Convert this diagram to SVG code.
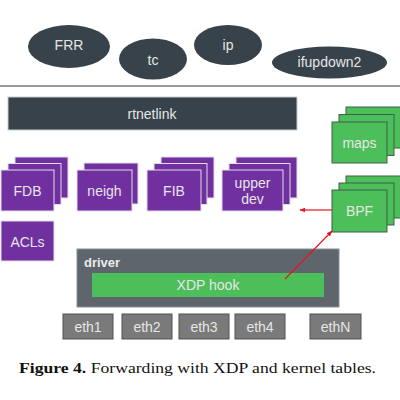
<svg xmlns="http://www.w3.org/2000/svg" width="400" height="400" viewBox="0 0 400 400">
<defs>
<marker id="ah" viewBox="0 0 10 10" refX="9" refY="5" markerWidth="6" markerHeight="6" orient="auto" markerUnits="userSpaceOnUse">
<path d="M0,1 L10,5 L0,9 z" fill="#e8141c"/>
</marker>
</defs>
<style>
.t{font-family:"Liberation Sans",Arial,sans-serif;font-size:14px;fill:#e6e6e6;text-anchor:middle;dominant-baseline:central}
.ell{fill:#37424a}
.pur{fill:#7030a0;stroke:#e4dcea;stroke-width:1}
.grn{fill:#4cbf5a;stroke:#3f5f49;stroke-width:1}
.eth{fill:#7a7a7a;stroke:#505050;stroke-width:1}
.conn{stroke:#e8141c;stroke-width:1.2;fill:none}
.cap{font-family:"Liberation Serif","Times New Roman",serif;font-size:15px;fill:#111}
</style>
<rect width="400" height="400" fill="#ffffff"/>

<g id="FRR"><ellipse class="ell" cx="69" cy="46.5" rx="41" ry="21.5"/><text class="t" x="69" y="45">FRR</text></g>
<g id="tc"><ellipse class="ell" cx="153" cy="59" rx="34" ry="20.5"/><text class="t" x="153" y="60">tc</text></g>
<g id="ip"><ellipse class="ell" cx="228" cy="45" rx="34" ry="20"/><text class="t" x="228" y="45">ip</text></g>
<g id="ifupdown2"><ellipse class="ell" cx="329.5" cy="62.5" rx="57.5" ry="16"/><text class="t" x="329.5" y="62">ifupdown2</text></g>

<line x1="0" y1="86" x2="400" y2="86" stroke="#9a9a9a" stroke-width="2"/>

<g id="rtnetlink"><rect x="8" y="97" width="289" height="33" fill="#37424a" stroke="#c8ccd0" stroke-width="1"/><text class="t" x="152" y="114">rtnetlink</text></g>

<g id="FDB">
<rect class="pur" x="15" y="157" width="53" height="41"/>
<rect class="pur" x="8" y="163.5" width="53" height="41"/>
<rect class="pur" x="1" y="170" width="53" height="41"/>
<text class="t" x="27.5" y="190.5">FDB</text>
</g>
<g id="neigh">
<rect class="pur" x="84" y="163" width="54" height="41"/>
<rect class="pur" x="77" y="170" width="55" height="41"/>
<text class="t" x="104.5" y="190.5">neigh</text>
</g>
<g id="FIB">
<rect class="pur" x="161" y="157" width="53" height="41"/>
<rect class="pur" x="154" y="163.5" width="53" height="41"/>
<rect class="pur" x="147" y="170" width="54" height="41"/>
<text class="t" x="174" y="190.5">FIB</text>
</g>
<g id="upperdev">
<rect class="pur" x="236" y="157" width="61" height="41"/>
<rect class="pur" x="229" y="163.5" width="61" height="41"/>
<rect class="pur" x="222" y="170" width="61" height="41"/>
<text class="t" x="252.5" y="183">upper</text>
<text class="t" x="252.5" y="199">dev</text>
</g>
<g id="ACLs">
<rect class="pur" x="1" y="221" width="53" height="40"/>
<text class="t" x="27.5" y="241.5">ACLs</text>
</g>

<g id="maps">
<rect class="grn" x="346" y="107" width="55" height="41"/>
<rect class="grn" x="339" y="114.5" width="55" height="41"/>
<rect class="grn" x="332" y="122" width="55" height="41"/>
<text class="t" x="359.5" y="142.5">maps</text>
</g>
<g id="BPF">
<rect class="grn" x="346" y="176" width="55" height="42"/>
<rect class="grn" x="339" y="183" width="55" height="42"/>
<rect class="grn" x="332" y="190" width="55" height="42"/>
<text class="t" x="359.5" y="211">BPF</text>
</g>

<g id="driver">
<rect x="77" y="249" width="262" height="58" fill="#5e656c" stroke="#8a9096" stroke-width="1"/>
<text x="84" y="267" font-family="'Liberation Sans',Arial,sans-serif" font-size="13" font-weight="bold" fill="#ececec">driver</text>
</g>
<g id="XDPhook">
<rect x="92" y="273" width="232" height="24" fill="#4cbf5a"/>
<text class="t" x="208" y="285">XDP hook</text>
</g>

<g id="eth1"><rect class="eth" x="63" y="314" width="50" height="25"/><text class="t" x="88" y="326.5">eth1</text></g>
<g id="eth2"><rect class="eth" x="122" y="314" width="50" height="25"/><text class="t" x="147" y="326.5">eth2</text></g>
<g id="eth3"><rect class="eth" x="179" y="314" width="50" height="25"/><text class="t" x="204" y="326.5">eth3</text></g>
<g id="eth4"><rect class="eth" x="235" y="314" width="50" height="25"/><text class="t" x="260" y="326.5">eth4</text></g>
<g id="ethN"><rect class="eth" x="310" y="314" width="51" height="25"/><text class="t" x="335.5" y="326.5">ethN</text></g>

<g id="connectors">
<line class="conn" x1="332" y1="210" x2="300" y2="210" marker-end="url(#ah)"/>
<line class="conn" x1="285" y1="279" x2="332" y2="231" marker-end="url(#ah)"/>
</g>

<text class="cap" x="19" y="373" textLength="357" lengthAdjust="spacingAndGlyphs"><tspan font-weight="bold">Figure 4.</tspan> Forwarding with XDP and kernel tables.</text>
</svg>
